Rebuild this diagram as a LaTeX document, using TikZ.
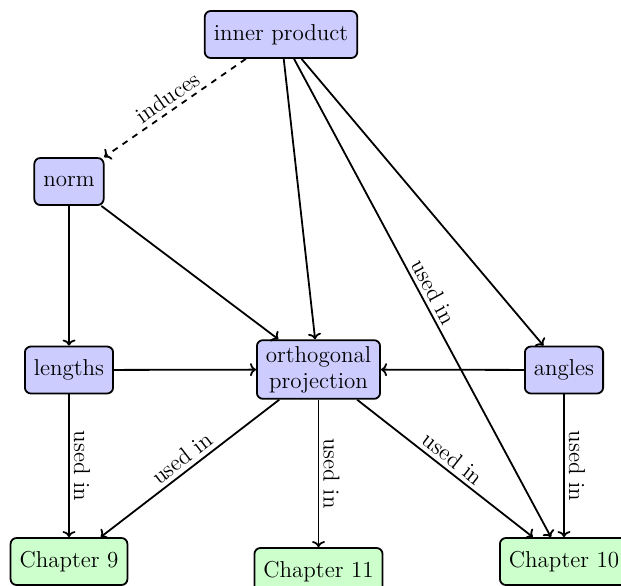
\documentclass[tikz,border=0pt]{standalone}
\usetikzlibrary{arrows.meta}
\begin{document}
\begin{tikzpicture}[x=0.5pt,y=-0.5pt,
  font=\fontsize{11.5}{13}\selectfont,
  concept/.style={draw=black, line width=0.9pt, rounded corners=3pt, fill=blue!20,
    inner xsep=4.5pt, inner ysep=3pt, minimum height=23.5pt, align=center},
  chapter/.style={concept, fill=green!20},
  link/.style={line width=0.9pt, -{To[length=3pt,width=6.5pt]}},
  lbl/.style={sloped, above, inner sep=2pt}
]
\useasboundingbox (0,0) rectangle (621,585);
\clip (0,0) rectangle (621,585);
\node[concept] (ip) at (281,34.5) {inner product};
\node[concept] (norm) at (69,181.5) {norm};
\node[concept] (len) at (69,370) {lengths};
\node[concept] (orth) at (318.5,369.5) {orthogonal\\projection};
\node[concept] (ang) at (564,370) {angles};
\node[chapter] (c9) at (69,561.5) {Chapter 9};
\node[chapter] (c11) at (318.5,571.5) {Chapter 11};
\node[chapter] (c10) at (564,561.5) {Chapter 10};

\draw[link, dashed] (ip) -- node[lbl] {induces} (norm);
\draw[link] (ip) -- (orth);
\draw[link] (ip) -- node[lbl] {used in} (c10);
\draw[link] (ip) -- (ang);
\draw[link] (norm) -- (len);
\draw[link] (norm) -- (orth);
\draw[link] (len) -- (orth);
\draw[link] (ang) -- (orth);
\draw[link] (len) -- node[lbl] {used in} (c9);
\draw[link] (orth) -- node[lbl] {used in} (c9);
\draw[link] (orth) -- node[lbl] {used in} (c11);
\draw[link] (orth) -- node[lbl] {used in} (c10);
\draw[link] (ang) -- node[lbl] {used in} (c10);
\end{tikzpicture}
\end{document}
